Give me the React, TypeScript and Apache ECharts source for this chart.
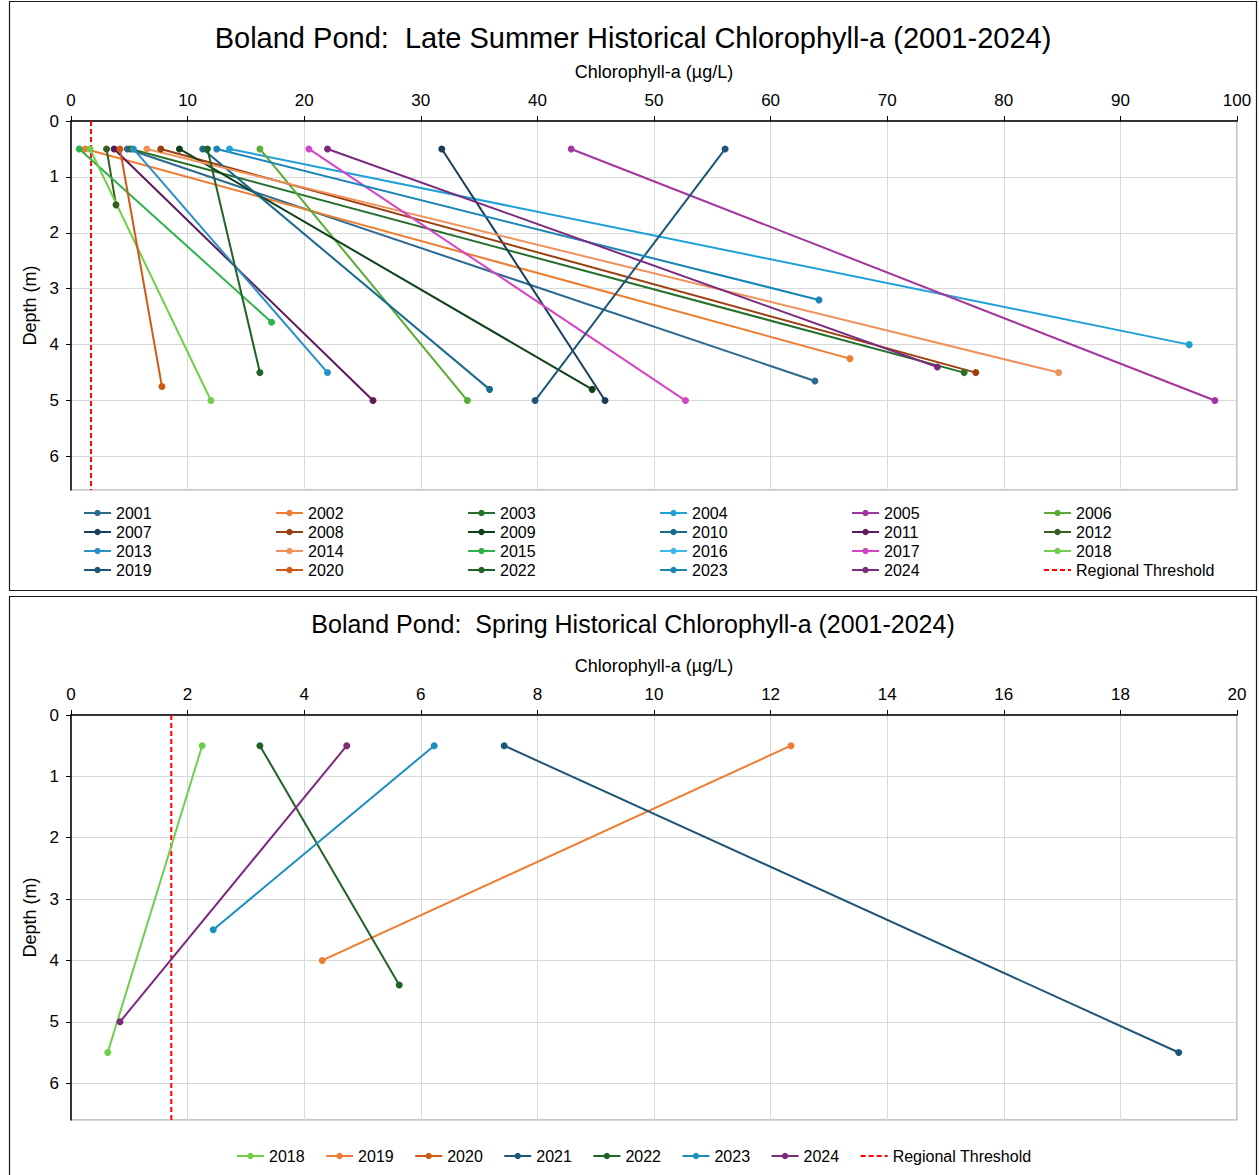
import React, { useEffect, useRef } from 'react';
import * as echarts from 'echarts';

const FONT = '"Liberation Sans", Arial, sans-serif';

// ---- Late summer profiles (surface point, bottom point) ----
const lateYears = ['2001', '2002', '2003', '2004', '2005', '2006', '2007', '2008', '2009', '2010', '2011', '2012', '2013', '2014', '2015', '2016', '2017', '2018', '2019', '2020', '2022', '2023', '2024'];
const lateSurfaceDepth = [0.5, 0.5, 0.5, 0.5, 0.5, 0.5, 0.5, 0.5, 0.5, 0.5, 0.5, 0.5, 0.5, 0.5, 0.5, null, 0.5, 0.5, 0.5, 0.5, 0.5, 0.5, 0.5];
const lateSurfaceChl = [4.83, 1.23, 5.12, 13.6, 42.9, 16.2, 31.8, 7.7, 9.3, 11.3, 3.7, 3.05, 5.35, 6.5, 0.71, null, 20.4, 1.63, 56.1, 4.2, 11.7, 12.5, 22.0];
const lateBottomDepth = [4.65, 4.25, 4.5, 4.0, 5.0, 5.0, 5.0, 4.5, 4.8, 4.8, 5.0, 1.5, 4.5, 4.5, 3.6, null, 5.0, 5.0, 5.0, 4.75, 4.5, 3.2, 4.4];
const lateBottomChl = [63.8, 66.8, 76.6, 95.9, 98.1, 34.0, 45.8, 77.6, 44.7, 35.9, 25.9, 3.86, 22.0, 84.7, 17.2, null, 52.7, 12.0, 39.8, 7.8, 16.2, 64.15, 74.3];
const lateColors = ['#2c6a90', '#ed7d31', '#24702c', '#1ea0d8', '#a3369e', '#5aab35', '#173f5c', '#9b3f0e', '#10401a', '#196a8e', '#5c1a5c', '#355f22', '#2a90c8', '#f0925a', '#2eb34a', '#3cb8ec', '#d445c6', '#6fcf4b', '#1d5677', '#d05a14', '#1f6326', '#1a85b8', '#7b2a7e'];
const lateChlTicks = [0, 10, 20, 30, 40, 50, 60, 70, 80, 90, 100];

// ---- Spring profiles ----
const springYears = ['2018', '2019', '2020', '2021', '2022', '2023', '2024'];
const springSurfaceDepth = [0.5, 0.5, null, 0.5, 0.5, 0.5, 0.5];
const springSurfaceChl = [2.25, 12.35, null, 7.43, 3.24, 6.23, 4.73];
const springBottomDepth = [5.5, 4.0, null, 5.5, 4.4, 3.5, 5.0];
const springBottomChl = [0.63, 4.31, null, 19.0, 5.63, 2.44, 0.84];
const springColors = ['#6fcf4b', '#ed7d31', '#d05a14', '#1d5677', '#1f6326', '#1a8fc0', '#7b2a7e'];
const springChlTicks = [0, 2, 4, 6, 8, 10, 12, 14, 16, 18, 20];

const depthTicks = [0, 1, 2, 3, 4, 5, 6];
const depthMax = 6.6;
const regionalThreshold = 1.72;
const thresholdName = 'Regional Threshold';

type Cfg = {
  title: string;
  titleSize: number;
  years: string[];
  colors: string[];
  sDep: (number | null)[];
  sChl: (number | null)[];
  bDep: (number | null)[];
  bChl: (number | null)[];
  xTicks: number[];
  gridTop: number;
  gridBottom: number;
  titleY: number;
  box: { x: number; y: number; w: number; h: number };
  legend: any;
};

function buildOption(c: Cfg): any {
  const series: any[] = c.years.map((y, i) => {
    const pts: number[][] = [];
    if (c.sChl[i] != null && c.sDep[i] != null) pts.push([c.sChl[i] as number, c.sDep[i] as number]);
    if (c.bChl[i] != null && c.bDep[i] != null) pts.push([c.bChl[i] as number, c.bDep[i] as number]);
    return {
      type: 'line',
      name: y,
      data: pts,
      color: c.colors[i],
      symbol: 'circle',
      symbolSize: 7,
      showSymbol: true,
      lineStyle: { width: 2, color: c.colors[i] },
      itemStyle: { color: c.colors[i] },
      emphasis: { disabled: true },
      silent: true,
    };
  });
  series.push({
    type: 'line',
    name: thresholdName,
    data: [[regionalThreshold, depthTicks[0]], [regionalThreshold, depthMax]],
    color: '#ff0000',
    symbol: 'none',
    lineStyle: { width: 2, color: '#ff0000', type: [5, 3] },
    itemStyle: { color: '#ff0000' },
    emphasis: { disabled: true },
    silent: true,
    z: 1,
  });
  const xMin = c.xTicks[0];
  const xMax = c.xTicks[c.xTicks.length - 1];
  const xInt = c.xTicks[1] - c.xTicks[0];
  return {
    animation: false,
    textStyle: { fontFamily: FONT },
    graphic: [
      {
        type: 'rect',
        shape: { x: c.box.x, y: c.box.y, width: c.box.w, height: c.box.h },
        style: { fill: 'none', stroke: '#1a1a1a', lineWidth: 1.2 },
        silent: true,
      },
      {
        type: 'text',
        x: 633,
        y: c.titleY,
        style: {
          text: c.title,
          fontSize: c.titleSize,
          fontFamily: FONT,
          fill: '#000',
          align: 'center',
          verticalAlign: 'middle',
        },
        silent: true,
      },
    ],
    grid: {
      left: 71,
      right: 22,
      top: c.gridTop,
      bottom: c.gridBottom,
      show: true,
      borderColor: '#8c8c8c',
      borderWidth: 1,
      backgroundColor: 'transparent',
    },
    legend: Object.assign(
      {
        selectedMode: false,
        padding: 0,
        itemWidth: 27,
        itemHeight: 8,
        textStyle: { fontSize: 16, color: '#000', fontFamily: FONT, lineHeight: 16 },
        data: [...c.years, { name: thresholdName, itemStyle: { opacity: 0 } }],
      },
      c.legend
    ),
    xAxis: {
      type: 'value',
      position: 'top',
      min: xMin,
      max: xMax,
      interval: xInt,
      name: 'Chlorophyll-a (µg/L)',
      nameLocation: 'middle',
      nameGap: 40,
      nameTextStyle: { fontSize: 18, color: '#000', fontFamily: FONT },
      axisLine: { show: true, onZero: false, lineStyle: { color: '#000', width: 1.5 } },
      axisTick: { show: true, length: 5, lineStyle: { color: '#000', width: 1 } },
      axisLabel: { fontSize: 17, color: '#000', margin: 12, fontFamily: FONT },
      splitLine: { show: true, lineStyle: { color: '#d9d9d9', width: 1 } },
    },
    yAxis: {
      type: 'value',
      inverse: true,
      min: depthTicks[0],
      max: depthMax,
      interval: depthTicks[1] - depthTicks[0],
      name: 'Depth (m)',
      nameLocation: 'middle',
      nameGap: 32,
      nameRotate: 90,
      nameTextStyle: { fontSize: 18, color: '#000', fontFamily: FONT },
      axisLine: { show: true, onZero: false, lineStyle: { color: '#000', width: 1.5 } },
      axisTick: { show: true, length: 5, lineStyle: { color: '#000', width: 1 } },
      axisLabel: { fontSize: 17, color: '#000', margin: 12, showMaxLabel: false, fontFamily: FONT },
      splitLine: { show: true, lineStyle: { color: '#d9d9d9', width: 1 } },
    },
    series,
  };
}

function ChartBox(props: { cfg: Cfg; top: number; height: number }) {
  const ref = useRef<HTMLDivElement>(null);
  useEffect(() => {
    if (!ref.current) return;
    const chart = echarts.init(ref.current, undefined, { renderer: 'svg' });
    chart.setOption(buildOption(props.cfg));
    return () => chart.dispose();
  }, []);
  return (
    <div
      ref={ref}
      style={{ position: 'absolute', left: 0, top: props.top, width: 1259, height: props.height }}
    />
  );
}

const lateCfg: Cfg = {
  title: 'Boland Pond:  Late Summer Historical Chlorophyll-a (2001-2024)',
  titleSize: 29,
  years: lateYears,
  colors: lateColors,
  sDep: lateSurfaceDepth,
  sChl: lateSurfaceChl,
  bDep: lateBottomDepth,
  bChl: lateBottomChl,
  xTicks: lateChlTicks,
  gridTop: 121,
  gridBottom: 103,
  titleY: 38,
  box: { x: 9.5, y: 1.5, w: 1247, h: 589 },
  legend: {
    left: 83,
    top: 505,
    width: 1160,
    orient: 'horizontal',
    itemGap: 3,
    textStyle: { fontSize: 16, color: '#000', fontFamily: FONT, lineHeight: 16, width: 156 },
  },
};

const springCfg: Cfg = {
  title: 'Boland Pond:  Spring Historical Chlorophyll-a (2001-2024)',
  titleSize: 25,
  years: springYears,
  colors: springColors,
  sDep: springSurfaceDepth,
  sChl: springSurfaceChl,
  bDep: springBottomDepth,
  bChl: springBottomChl,
  xTicks: springChlTicks,
  gridTop: 122,
  gridBottom: 55,
  titleY: 31,
  box: { x: 9.5, y: 3.5, w: 1247, h: 600 },
  legend: {
    left: 236,
    top: 555,
    orient: 'horizontal',
    itemGap: 20.5,
  },
};

export default function App() {
  return (
    <div style={{ position: 'absolute', left: 0, top: 0, width: 1259, height: 1175, background: '#fff', overflow: 'hidden' }}>
      <ChartBox cfg={lateCfg} top={0} height={593} />
      <ChartBox cfg={springCfg} top={593} height={582} />
    </div>
  );
}
